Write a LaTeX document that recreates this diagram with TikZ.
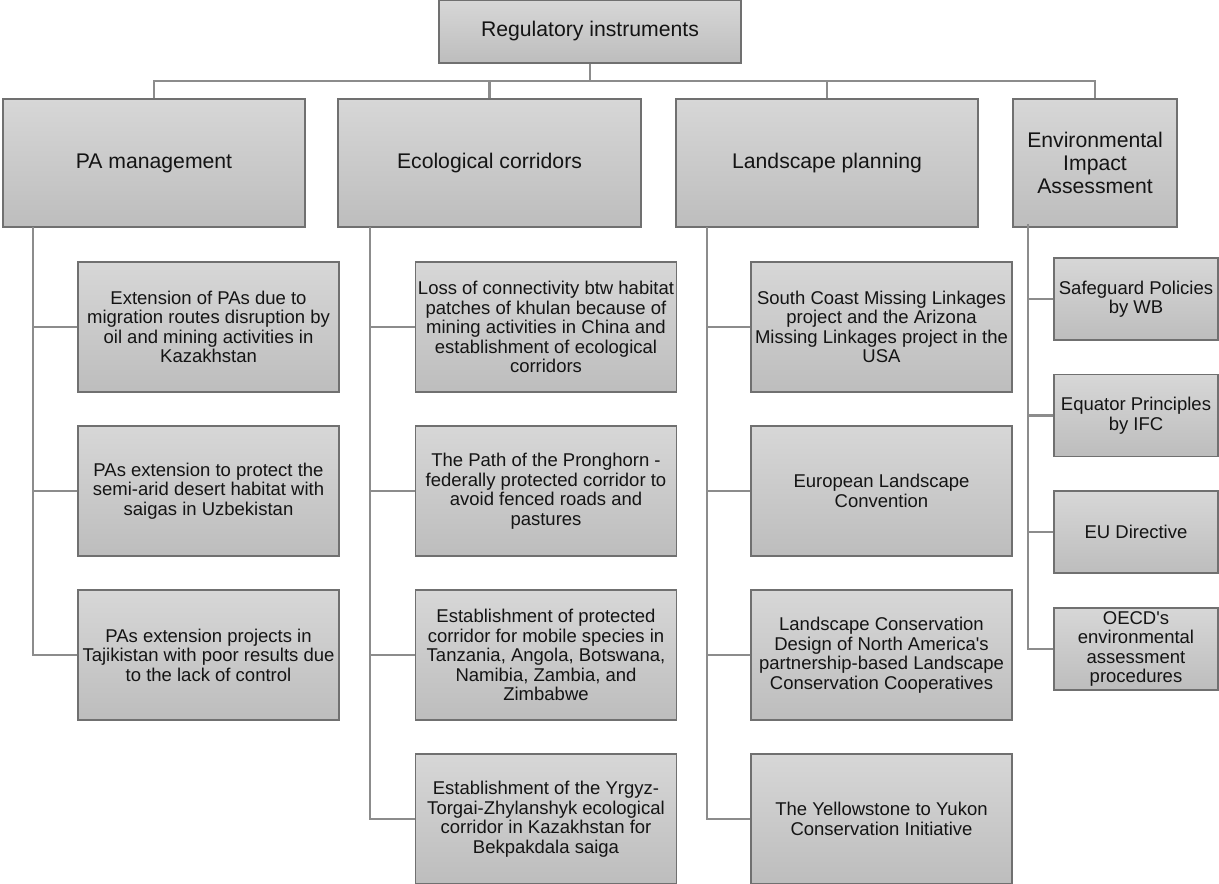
\documentclass[tikz,border=0pt]{standalone}
\usepackage{fontspec}
\setmainfont{Liberation Sans}[Ligatures=TeXOff]
\definecolor{boxtop}{RGB}{215,215,215}
\definecolor{boxbot}{RGB}{189,189,189}
\definecolor{boxline}{RGB}{112,112,112}
\definecolor{conn}{RGB}{140,140,140}
\definecolor{txt}{RGB}{20,20,20}
\tikzset{
  gbox/.style={draw=boxline, line width=1.2pt, top color=boxtop, bottom color=boxbot,
    align=center, inner sep=1pt, text=txt, anchor=center},
  bigbox/.style={gbox, font=\fontsize{21.2}{22.6}\selectfont},
  smallbox/.style={gbox, font=\fontsize{18.5}{19.5}\selectfont},
  lvA/.style={bigbox, minimum width=302pt, minimum height=128pt},
  lvB/.style={smallbox, minimum width=261pt, minimum height=130pt},
  lvC/.style={smallbox, minimum width=164pt, minimum height=82pt},
  link/.style={draw=conn, line width=2.8pt}
}
\begin{document}
\begin{tikzpicture}[x=1pt,y=-1pt]
\useasboundingbox (0,0) rectangle (1219,884);
% root
\node[bigbox, minimum width=302pt, minimum height=63pt] (root) at (590,31.5) {Regulatory instruments};
% level 1
\node[lvA] (pa) at (154,163) {PA management};
\node[lvA, minimum width=303pt] (eco) at (489.5,163) {Ecological corridors};
\node[lvA] (land) at (827,163) {Landscape planning};
\node[lvA, minimum width=164pt] (eia) at (1095,163) {Environmental\\Impact\\Assessment};
% level 2 PA
\node[lvB] (pa1) at (208.5,327) {Extension of PAs due to\\migration routes disruption by\\oil and mining activities in\\Kazakhstan};
\node[lvB] (pa2) at (208.5,491) {PAs extension to protect the\\semi-arid desert habitat with\\saigas in Uzbekistan};
\node[lvB] (pa3) at (208.5,655) {PAs extension projects in\\Tajikistan with poor results due\\to the lack of control};
% level 2 eco
\node[lvB] (eco1) at (546,327) {Loss of connectivity btw habitat\\patches of khulan because of\\mining activities in China and\\establishment of ecological\\corridors};
\node[lvB] (eco2) at (546,491) {The Path of the Pronghorn -\\federally protected corridor to\\avoid fenced roads and\\pastures};
\node[lvB] (eco3) at (546,655) {Establishment of protected\\corridor for mobile species in\\Tanzania, Angola, Botswana,\\Namibia, Zambia, and\\Zimbabwe};
\node[lvB] (eco4) at (546,819) {Establishment of the Yrgyz-\\Torgai-Zhylanshyk ecological\\corridor in Kazakhstan for\\Bekpakdala saiga};
% level 2 landscape
\node[lvB] (land1) at (881.5,327) {South Coast Missing Linkages\\project and the Arizona\\Missing Linkages project in the\\USA};
\node[lvB] (land2) at (881.5,491) {European Landscape\\Convention};
\node[lvB] (land3) at (881.5,655) {Landscape Conservation\\Design of North America's\\partnership-based Landscape\\Conservation Cooperatives};
\node[lvB] (land4) at (881.5,819) {The Yellowstone to Yukon\\Conservation Initiative};
% level 2 EIA
\node[lvC] (eia1) at (1136,299) {Safeguard Policies\\by WB};
\node[lvC] (eia2) at (1136,415.5) {Equator Principles\\by IFC};
\node[lvC] (eia3) at (1136,532) {EU Directive};
\node[lvC] (eia4) at (1136,649) {OECD's\\environmental\\assessment\\procedures};
% connectors top
\coordinate (bus) at (590,81);
\draw[link] (root.south) -- (bus);
\draw[link] (pa.north) |- (bus) -| (eia.north);
\draw[link] (eco.north) -- (eco.north |- bus);
\draw[link] (land.north) -- (land.north |- bus);
% spines
\coordinate (paS) at (33,227);
\coordinate (ecoS) at (370,227);
\coordinate (landS) at (707,227);
\coordinate (eiaS) at (1028,224);
\draw[link] (paS) |- (pa3.west);
\draw[link] (pa1.west) -- (pa1.west -| paS);
\draw[link] (pa2.west) -- (pa2.west -| paS);
\draw[link] (ecoS) |- (eco4.west);
\draw[link] (eco1.west) -- (eco1.west -| ecoS);
\draw[link] (eco2.west) -- (eco2.west -| ecoS);
\draw[link] (eco3.west) -- (eco3.west -| ecoS);
\draw[link] (landS) |- (land4.west);
\draw[link] (land1.west) -- (land1.west -| landS);
\draw[link] (land2.west) -- (land2.west -| landS);
\draw[link] (land3.west) -- (land3.west -| landS);
\draw[link] (eiaS) |- (eia4.west);
\draw[link] (eia1.west) -- (eia1.west -| eiaS);
\draw[link] (eia2.west) -- (eia2.west -| eiaS);
\draw[link] (eia3.west) -- (eia3.west -| eiaS);
\end{tikzpicture}
\end{document}
